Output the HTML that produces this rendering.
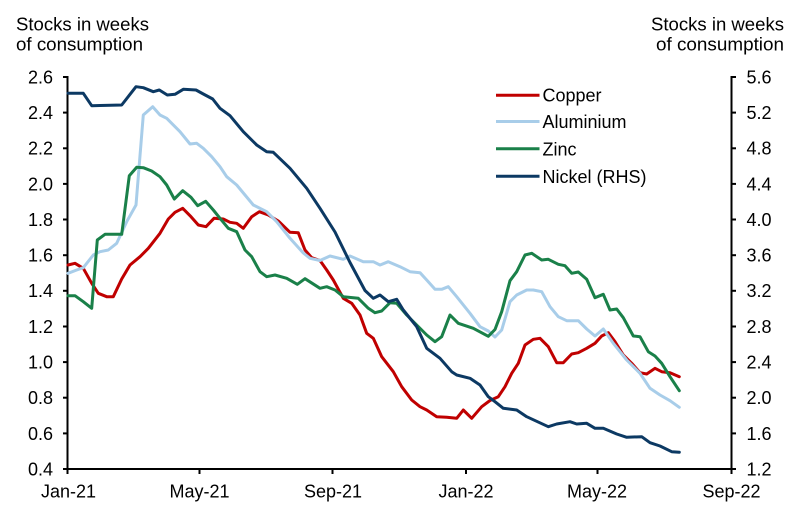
<!DOCTYPE html>
<html>
<head>
<meta charset="utf-8">
<style>
  html, body { margin: 0; padding: 0; background: #ffffff; }
  svg { display: block; }
  text { font-family: "Liberation Sans", Arial, sans-serif; font-size: 18px; fill: #000; }
</style>
</head>
<body>
<svg width="801" height="508" viewBox="0 0 801 508" xmlns="http://www.w3.org/2000/svg">
  <rect x="0" y="0" width="801" height="508" fill="#ffffff"/>

  <!-- Titles -->
  <text x="16" y="30.5" textLength="133" lengthAdjust="spacingAndGlyphs">Stocks in weeks</text>
  <text x="16" y="50.5" textLength="127" lengthAdjust="spacingAndGlyphs">of consumption</text>
  <text x="784" y="30.5" text-anchor="end" textLength="133" lengthAdjust="spacingAndGlyphs">Stocks in weeks</text>
  <text x="784" y="50.5" text-anchor="end" textLength="128" lengthAdjust="spacingAndGlyphs">of consumption</text>

  <!-- Axes -->
  <g stroke="#000" stroke-width="2" fill="none">
    <line x1="67.5" y1="76" x2="67.5" y2="470"/>
    <line x1="731.5" y1="76" x2="731.5" y2="470"/>
    <line x1="66.5" y1="469" x2="732.5" y2="469"/>
    <!-- left ticks -->
    <line x1="63" y1="77" x2="68" y2="77"/>
    <line x1="63" y1="112.6" x2="68" y2="112.6"/>
    <line x1="63" y1="148.3" x2="68" y2="148.3"/>
    <line x1="63" y1="183.9" x2="68" y2="183.9"/>
    <line x1="63" y1="219.5" x2="68" y2="219.5"/>
    <line x1="63" y1="255.2" x2="68" y2="255.2"/>
    <line x1="63" y1="290.8" x2="68" y2="290.8"/>
    <line x1="63" y1="326.5" x2="68" y2="326.5"/>
    <line x1="63" y1="362.1" x2="68" y2="362.1"/>
    <line x1="63" y1="397.7" x2="68" y2="397.7"/>
    <line x1="63" y1="433.4" x2="68" y2="433.4"/>
    <line x1="63" y1="469" x2="68" y2="469"/>
    <!-- right ticks -->
    <line x1="731" y1="77" x2="736" y2="77"/>
    <line x1="731" y1="112.6" x2="736" y2="112.6"/>
    <line x1="731" y1="148.3" x2="736" y2="148.3"/>
    <line x1="731" y1="183.9" x2="736" y2="183.9"/>
    <line x1="731" y1="219.5" x2="736" y2="219.5"/>
    <line x1="731" y1="255.2" x2="736" y2="255.2"/>
    <line x1="731" y1="290.8" x2="736" y2="290.8"/>
    <line x1="731" y1="326.5" x2="736" y2="326.5"/>
    <line x1="731" y1="362.1" x2="736" y2="362.1"/>
    <line x1="731" y1="397.7" x2="736" y2="397.7"/>
    <line x1="731" y1="433.4" x2="736" y2="433.4"/>
    <line x1="731" y1="469" x2="736" y2="469"/>
    <!-- x ticks -->
    <line x1="67.5" y1="469" x2="67.5" y2="474"/>
    <line x1="199.5" y1="469" x2="199.5" y2="474"/>
    <line x1="332.5" y1="469" x2="332.5" y2="474"/>
    <line x1="466" y1="469" x2="466" y2="474"/>
    <line x1="597.5" y1="469" x2="597.5" y2="474"/>
    <line x1="731.5" y1="469" x2="731.5" y2="474"/>
  </g>

  <!-- Left tick labels -->
  <g text-anchor="end">
    <text x="53" y="83.4">2.6</text>
    <text x="53" y="119">2.4</text>
    <text x="53" y="154.7">2.2</text>
    <text x="53" y="190.3">2.0</text>
    <text x="53" y="225.9">1.8</text>
    <text x="53" y="261.6">1.6</text>
    <text x="53" y="297.2">1.4</text>
    <text x="53" y="332.9">1.2</text>
    <text x="53" y="368.5">1.0</text>
    <text x="53" y="404.1">0.8</text>
    <text x="53" y="439.8">0.6</text>
    <text x="53" y="475.4">0.4</text>
  </g>
  <!-- Right tick labels -->
  <g>
    <text x="746.5" y="83.4">5.6</text>
    <text x="746.5" y="119">5.2</text>
    <text x="746.5" y="154.7">4.8</text>
    <text x="746.5" y="190.3">4.4</text>
    <text x="746.5" y="225.9">4.0</text>
    <text x="746.5" y="261.6">3.6</text>
    <text x="746.5" y="297.2">3.2</text>
    <text x="746.5" y="332.9">2.8</text>
    <text x="746.5" y="368.5">2.4</text>
    <text x="746.5" y="404.1">2.0</text>
    <text x="746.5" y="439.8">1.6</text>
    <text x="746.5" y="475.4">1.2</text>
  </g>
  <!-- X labels -->
  <g text-anchor="middle">
    <text x="68.5" y="497.3">Jan-21</text>
    <text x="199.5" y="497.3">May-21</text>
    <text x="333" y="497.3">Sep-21</text>
    <text x="466" y="497.3">Jan-22</text>
    <text x="597" y="497.3">May-22</text>
    <text x="731.5" y="497.3">Sep-22</text>
  </g>

  <!-- Series -->
  <g fill="none" stroke-width="3" stroke-linejoin="round" stroke-linecap="round">
    <polyline stroke="#c00000" points="68,265 75,263.3 83.3,268.3 91.7,283.3 98.3,293.3 106.7,296.7 113.3,296.7 121.7,279 130,265 140,256.7 148.3,248.3 160,233.3 168.3,219 175,212.3 182.7,208.3 191,216.7 198.3,225 206,226.7 214,218.3 223.3,219 230,222.3 236.7,223.3 243.3,228.3 251.7,216.7 259.3,211.7 268.3,215 278.3,221 290,232.3 298.3,232.8 305,250 311.7,257.7 320,260.5 326.7,270 333.3,280 343.3,298.3 351.7,303.3 360,315 366.7,333.3 373.3,338.3 381.7,356.7 393.3,371.7 401.7,386.7 411.7,400 420,406.7 426.7,410 436.7,416.7 446.7,417.3 456.7,418.3 463.3,410 471.7,418.3 481.7,406.7 490,400.5 498.3,396.7 505,386.7 511.7,373.3 518.3,363.3 525,345 533.3,339.3 540,338.3 548.3,346.7 556.7,362.7 563.3,362.7 571.7,354 578.3,352.7 586.7,348.3 595,343.3 601.7,336 608.3,332.7 615,341.7 623.3,355 631.7,363.3 640,372.7 646.7,374 655,368.3 661.7,371.7 670,372.7 679.3,376.7"/>
    <polyline stroke="#a8cde9" points="68,273.3 76.7,270 83.3,267.7 93.3,255 100,251.7 108.3,250 116.7,243.3 126.7,221.7 136,205 143.3,115 152.7,106.7 160,115 166.7,118.3 180,131.7 190,144 196.7,143.3 203.3,148.3 211.7,156.7 220,166.7 226.7,176.7 236.7,185 253.3,205 266.7,211.7 276.7,221.7 290,238.3 303.3,253 310,258.3 320,260.5 330,256 343.3,259.3 350,256 363.3,261.7 373.3,261.7 380,265 388.3,261.7 400,266.7 410,271.7 420,272.7 426.7,280 435,289.3 441.7,289.3 448.3,286.7 456.7,296.7 470,313.3 480,326.7 488.3,331 495,337 501.7,330 510,301.7 516.7,295 526.7,290 533.3,290 541.7,291.7 550,306.7 558.3,316.7 566.7,320.7 578.3,320.7 586.7,329 595,336 603.3,329 613.3,343.3 626.7,360 640,373.3 650,388.3 660,395 670,400.7 679.3,407.3"/>
    <polyline stroke="#1a8049" points="68,295.7 75,295.7 83.3,301.7 91.7,308.3 97.3,240 105,234.3 121.7,234.3 129.3,175.7 136.7,167.3 143.3,167.7 151.7,171 160,176.7 166.7,185 174.3,199 182.7,190.7 191,197.3 197.7,205.7 205.7,201.3 213.3,210 220,218.3 228.3,228.3 236.7,231.7 245,250 251.7,256.7 260,271.7 266.7,276.7 275,275 286.7,278.3 297.3,284.3 305,278.7 320,288.3 326.7,286.7 335,290 343.3,296.7 358.3,298.3 368.3,308.3 375,312.7 381.7,311 390,302.7 396.7,303.3 406.7,315 416.7,325 426.7,335 435,341.7 441.7,336.7 450,315 458.3,323.3 473.3,328.3 488.3,336.3 495,329.5 501.7,311.7 510,280.7 516.7,271.7 525,255 531.7,253.3 541.7,260 548.3,259.3 558.3,264.3 565,265.7 571.7,273.3 578.3,272 586.7,279.3 595,297.7 603.3,294.3 610,310 616.7,309 623.3,317.7 633.3,336 640,336.7 648.3,351.7 655,356 661.7,363.3 670,376.7 679.3,390.7"/>
    <polyline stroke="#0c3963" points="68,93.3 83.3,93.3 91.7,105.7 100,105.5 121.7,105 136,86.7 143.3,87.7 153.3,91.7 159.3,90 167.3,95 175,94.3 183.3,89.3 196,90 203.3,94 212.7,99 220,108.3 230,115.7 243.3,131.7 256.7,145 266.7,151.7 273.3,152.3 290,168.3 306.7,188.3 320,208.3 335,232 350,262.5 365,290.5 373.3,298.3 380,295 388.3,301.7 396.7,299.3 403.3,310 416.7,326.7 426.7,348.3 440,358.3 451.7,371.7 456.7,375 470,378.3 480,385 488.3,396.7 495,401.7 503.3,408.3 516.7,410 526.7,416.7 548.3,426.7 556.7,424 570,421.7 576.7,424 586.7,423.3 595,428.3 603.3,428.3 616.7,434 626.7,437.3 641.7,436.7 650,442.7 660,446 671.7,451.7 679.3,452.3"/>
  </g>

  <!-- Legend -->
  <g stroke-width="3">
    <line x1="496" y1="95.3" x2="539.5" y2="95.3" stroke="#c00000"/>
    <line x1="496" y1="121.5" x2="539.5" y2="121.5" stroke="#a8cde9"/>
    <line x1="496" y1="148.7" x2="539.5" y2="148.7" stroke="#1a8049"/>
    <line x1="496" y1="176.3" x2="539.5" y2="176.3" stroke="#0c3963"/>
  </g>
  <text x="542.5" y="101.5">Copper</text>
  <text x="542.5" y="128">Aluminium</text>
  <text x="542.5" y="155.3">Zinc</text>
  <text x="542.5" y="182.8">Nickel (RHS)</text>
</svg>
</body>
</html>
